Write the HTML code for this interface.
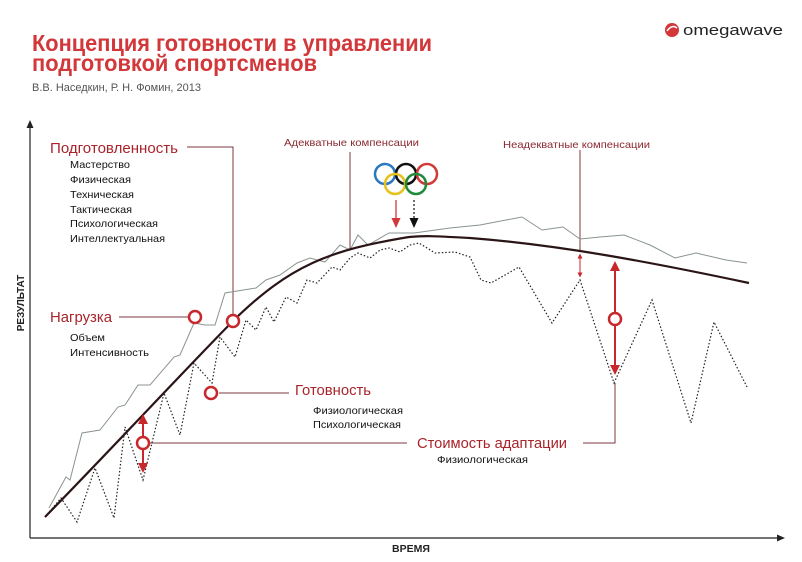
<!DOCTYPE html>
<html><head><meta charset="utf-8"><style>
html,body{margin:0;padding:0;background:#fff;}
svg{display:block;font-family:"Liberation Sans",sans-serif;}
</style></head><body>
<svg width="802" height="562" viewBox="0 0 802 562" xmlns="http://www.w3.org/2000/svg">
<defs>
<marker id="ar" viewBox="0 0 10 10" refX="5" refY="5" markerWidth="5" markerHeight="5" orient="auto-start-reverse"><path d="M0,0L10,5L0,10z" fill="#c8282c"/></marker>
<marker id="ak" viewBox="0 0 10 10" refX="5" refY="5" markerWidth="5" markerHeight="5" orient="auto"><path d="M0,0L10,5L0,10z" fill="#111"/></marker>
</defs>
<rect width="802" height="562" fill="#fff"/>
<!-- title -->
<text x="32" y="51" font-size="23" font-weight="bold" fill="#d2373a" textLength="400" lengthAdjust="spacingAndGlyphs">Концепция готовности в управлении</text>
<text x="32" y="71" font-size="23" font-weight="bold" fill="#d2373a" textLength="285" lengthAdjust="spacingAndGlyphs">подготовкой спортсменов</text>
<text x="32" y="91" font-size="11" fill="#555" textLength="169" lengthAdjust="spacingAndGlyphs">В.В. Наседкин, Р. Н. Фомин, 2013</text>
<!-- logo -->
<circle cx="672" cy="30" r="7" fill="#d2373a"/>
<path d="M667,31 Q672,24 677,28" stroke="#fff" stroke-width="1.5" fill="none"/>
<text x="683" y="35" font-size="15" fill="#222" textLength="100" lengthAdjust="spacingAndGlyphs">omegawave</text>
<!-- axes -->
<line x1="30" y1="538" x2="30" y2="124" stroke="#222" stroke-width="1.2"/>
<path d="M26.5,128L30,120L33.5,128z" fill="#222"/>
<line x1="30" y1="538" x2="780" y2="538" stroke="#222" stroke-width="1.2"/>
<path d="M777,534.5L785,538L777,541.5z" fill="#222"/>
<text x="392" y="552" font-size="10" font-weight="bold" fill="#222" textLength="38" lengthAdjust="spacingAndGlyphs">ВРЕМЯ</text>
<text transform="translate(24,303) rotate(-90)" text-anchor="middle" font-size="10" font-weight="bold" fill="#222">РЕЗУЛЬТАТ</text>
<!-- leaders -->
<g stroke="#7a3a3e" stroke-width="1" fill="none">
<polyline points="187,147 233,147 233,315"/>
<line x1="350" y1="152" x2="350" y2="250"/>
<line x1="580" y1="150" x2="580" y2="252"/>
<line x1="119" y1="317" x2="189" y2="317"/>
<line x1="219" y1="393" x2="289" y2="393"/>
<line x1="149" y1="443" x2="407" y2="443"/>
<polyline points="583,443 615,443 615,383"/>
</g>
<!-- gray line -->
<polyline fill="none" stroke="#8a9490" stroke-width="1" points="49,508 66,477 70,480 82,433 100,430 118,407 125,405 138,385 150,385 174,357 180,355 194,323 205,325 215,325 225,293 256,288 266,280 280,275 297,263 310,258 325,262 340,245 350,250 358,235 368,245 389,233 414,233 450,228 480,225 506,220 522,217 542,230 563,227 580,239 600,237 624,235 650,245 675,258 696,253 726,260 747,263"/>
<!-- dotted line -->
<polyline fill="none" stroke="#222" stroke-width="1.2" stroke-dasharray="1.5,2" points="45,517 61,498 77,522 95,468 114,518 125,427 143,480 164,393 180,435 194,363 212,383 220,337 235,357 246,320 256,330 266,307 274,322 286,297 297,303 307,280 317,283 332,267 340,270 350,258 358,253 370,258 380,250 389,248 400,252 410,245 419,243 435,253 455,252 470,257 481,280 491,283 519,267 552,323 580,280 614,383 652,300 691,423 714,322 747,387"/>
<!-- main curve -->
<path d="M45,517 C120,440 180,375 233,321 C290,265 330,250 409,237 C430,235 445,237 470,238 C560,245 650,262 749,283" fill="none" stroke="#2a1416" stroke-width="2.2"/>
<!-- olympic rings -->
<g fill="none" stroke-width="2.5">
<circle cx="385" cy="174" r="10" stroke="#2a78c0"/>
<circle cx="406" cy="174" r="10" stroke="#111"/>
<circle cx="427" cy="174" r="10" stroke="#d23a3a"/>
<circle cx="395" cy="184" r="10" stroke="#e6c21a"/>
<circle cx="416" cy="184" r="10" stroke="#1f8a3a"/>
</g>
<line x1="396" y1="200" x2="396" y2="222" stroke="#c8282c" stroke-width="1.2"/>
<path d="M391.5,218L396,228L400.5,218z" fill="#d2373a"/>
<line x1="414" y1="200" x2="414" y2="222" stroke="#111" stroke-width="1.2" stroke-dasharray="2,2"/>
<path d="M409.5,218L414,228L418.5,218z" fill="#111"/>
<!-- red arrows -->
<g stroke="#c8282c" stroke-width="2">
<line x1="143" y1="419" x2="143" y2="468" marker-start="url(#ar)" marker-end="url(#ar)"/>
<line x1="615" y1="266" x2="615" y2="370" marker-start="url(#ar)" marker-end="url(#ar)"/>
<line x1="580" y1="256" x2="580" y2="275" stroke-width="1" marker-start="url(#ar)" marker-end="url(#ar)"/>
</g>
<!-- circles -->
<g fill="#fff" stroke="#c8282c" stroke-width="2.5">
<circle cx="195" cy="317" r="6"/>
<circle cx="233" cy="321" r="6"/>
<circle cx="211" cy="393" r="6"/>
<circle cx="143" cy="443" r="6"/>
<circle cx="615" cy="319" r="6"/>
</g>
<!-- labels -->
<g fill="#a8242a" font-size="15">
<text x="50" y="153" textLength="128" lengthAdjust="spacingAndGlyphs">Подготовленность</text>
<text x="50" y="322" textLength="62" lengthAdjust="spacingAndGlyphs">Нагрузка</text>
<text x="295" y="395" textLength="76" lengthAdjust="spacingAndGlyphs">Готовность</text>
<text x="417" y="448" textLength="150" lengthAdjust="spacingAndGlyphs">Стоимость адаптации</text>
</g>
<g fill="#8a2a30" font-size="10.5">
<text x="284" y="146" textLength="135" lengthAdjust="spacingAndGlyphs">Адекватные компенсации</text>
<text x="503" y="148" textLength="147" lengthAdjust="spacingAndGlyphs">Неадекватные компенсации</text>
</g>
<g fill="#111" font-size="10.5">
<text x="70" y="168" textLength="60" lengthAdjust="spacingAndGlyphs">Мастерство</text>
<text x="70" y="183" textLength="61" lengthAdjust="spacingAndGlyphs">Физическая</text>
<text x="70" y="198" textLength="64" lengthAdjust="spacingAndGlyphs">Техническая</text>
<text x="70" y="213" textLength="62" lengthAdjust="spacingAndGlyphs">Тактическая</text>
<text x="70" y="227" textLength="88" lengthAdjust="spacingAndGlyphs">Психологическая</text>
<text x="70" y="242" textLength="95" lengthAdjust="spacingAndGlyphs">Интеллектуальная</text>
<text x="70" y="341" textLength="35" lengthAdjust="spacingAndGlyphs">Объем</text>
<text x="70" y="356" textLength="79" lengthAdjust="spacingAndGlyphs">Интенсивность</text>
<text x="313" y="414" textLength="90" lengthAdjust="spacingAndGlyphs">Физиологическая</text>
<text x="313" y="428" textLength="88" lengthAdjust="spacingAndGlyphs">Психологическая</text>
<text x="437" y="463" textLength="91" lengthAdjust="spacingAndGlyphs">Физиологическая</text>
</g>
</svg>
</body></html>
